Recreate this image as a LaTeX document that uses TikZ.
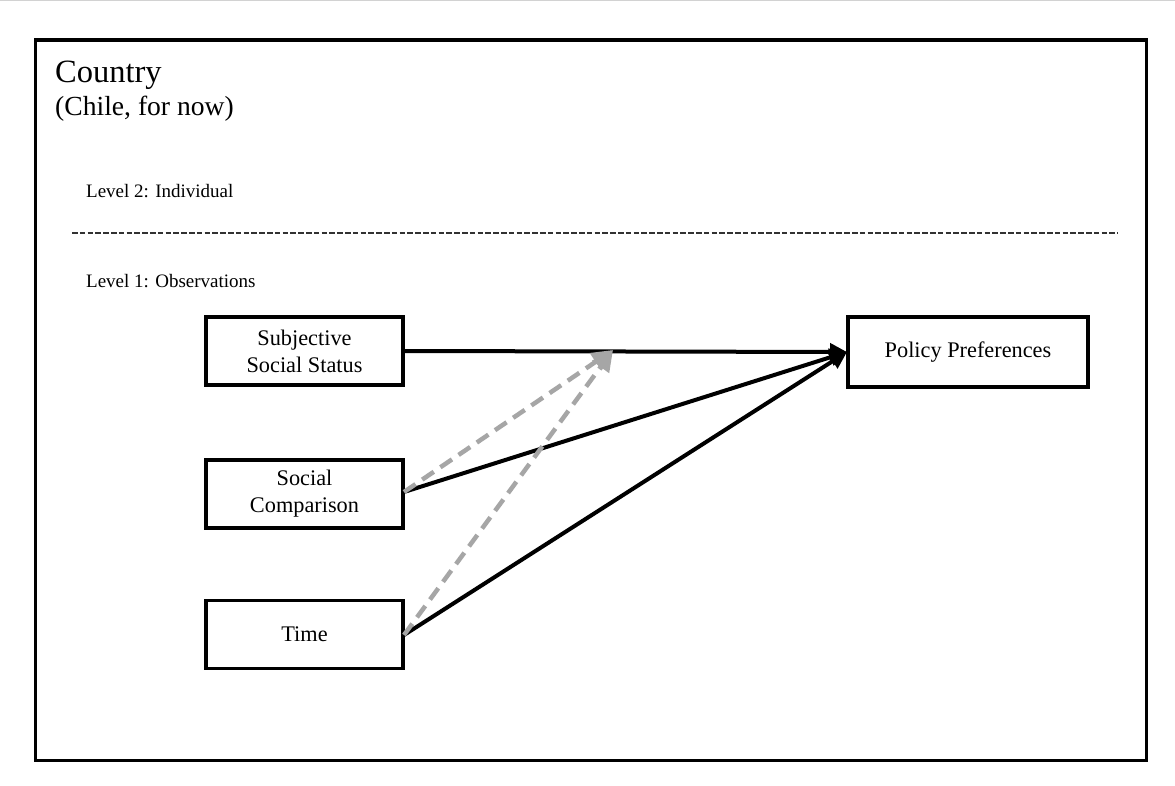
\documentclass[tikz,border=0pt]{standalone}
\usepackage{fontspec}
\setmainfont{Liberation Serif}
\usetikzlibrary{arrows.meta}
\tikzset{
  box/.style={draw=black, line width=3.2pt, minimum width=197pt, minimum height=68pt, inner sep=0pt, align=center, font=\fontsize{22.3}{27}\selectfont},
  conn/.style={line width=4pt, -{Triangle[length=17pt,width=17pt]}},
  mediate/.style={line width=4.5pt, draw={rgb,255:red,166;green,166;blue,166}, dash pattern=on 14pt off 8pt, -{Triangle[length=21pt,width=20pt,fill={rgb,255:red,166;green,166;blue,166}]}},
  lvl/.style={anchor=west, inner sep=0pt, font=\fontsize{19}{22}\selectfont}
}
\begin{document}
\begin{tikzpicture}[x=1pt,y=-1pt]
\useasboundingbox (0,0) rectangle (1175,786);
\fill[white] (0,0) rectangle (1175,786);
\draw[line width=1pt, color={rgb,255:red,210;green,210;blue,210}] (0,0.5) -- (1175,0.5);
% outer frame
\draw[line width=3.8pt] (35.5,40) rectangle (1146.5,760.5);
% titles
\node[anchor=base west, inner sep=0pt, font=\fontsize{32.5}{36}\selectfont] (country) at (55,83) {Country};
\node[anchor=base west, inner sep=0pt, font=\fontsize{27.6}{30}\selectfont] (chile) at (55,116) {(Chile, for now)};
\node[lvl] (lvl2) at (86,191) {Level 2: Individual};
\node[lvl] (lvl1) at (86,281) {Level 1: Observations};
% separator
\coordinate (sepL) at (72,233);
\coordinate (sepR) at (1118,233);
\draw[line width=1.5pt, color={rgb,255:red,50;green,50;blue,50}, dash pattern=on 5.5pt off 2.3pt] (sepL) -- (sepR);
% boxes
\node[box] (sss) at (304.5,351) {Subjective\\Social Status};
\node[box] (sc) at (304.5,494) {Social\\Comparison};
\node[box] (time) at (304.5,634.5) {Time};
\node[box, minimum width=240pt, minimum height=70pt] (pp) at (968,352) {Policy Preferences};
% points
\coordinate (ppin) at (847,352);
\coordinate (mid) at (613,350);
\coordinate (scout) at (404,492);
\coordinate (timeout) at (404,635);
% connectors
\draw[conn] (sss.east) -- (ppin);
\draw[conn] (scout) -- (ppin);
\draw[conn] (timeout) -- (ppin);
\draw[mediate] (scout) -- (mid);
\draw[mediate] (timeout) -- (mid);
\end{tikzpicture}
\end{document}
